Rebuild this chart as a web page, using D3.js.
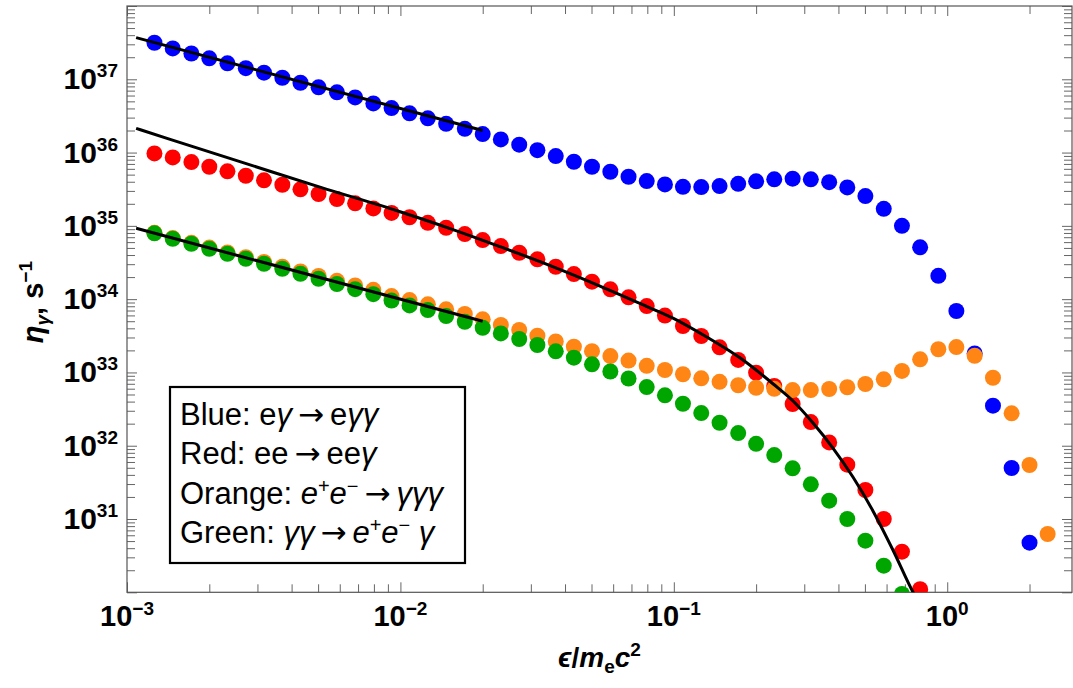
<!DOCTYPE html>
<html>
<head>
<meta charset="utf-8">
<script src="https://cdn.jsdelivr.net/npm/d3@7"></script>
<style>
  body { margin: 0; background: #fff; }
  svg { display: block; }
  text { font-family: "Liberation Sans", Arial, sans-serif; }
</style>
</head>
<body>
<div id="chart"></div>
<script>
// photon energy grid, eps / m_e c^2
const energies = [
  0.00126, 0.00147, 0.00172, 0.002, 0.00233, 0.00272, 0.00317, 0.0037, 0.00431, 0.00502,
  0.00586, 0.00683, 0.00796, 0.00928, 0.0108, 0.0126, 0.0147, 0.0172, 0.02, 0.0233,
  0.0272, 0.0317, 0.037, 0.0431, 0.0502, 0.0586, 0.0683, 0.0796, 0.0928, 0.108,
  0.126, 0.147, 0.172, 0.2, 0.233, 0.272, 0.317, 0.37, 0.431, 0.502,
  0.586, 0.683, 0.796, 0.928, 1.08, 1.26, 1.47, 1.72, 2.0, 2.33
];

// rates, s^-1
const blueRate = [
  3.15e37, 2.64e37, 2.25e37, 1.93e37, 1.65e37, 1.42e37, 1.23e37, 1.05e37, 8.97e36, 7.76e36,
  6.64e36, 5.66e36, 4.69e36, 4.05e36, 3.43e36, 2.93e36, 2.47e36, 2.11e36, 1.79e36, 1.51e36,
  1.28e36, 1.08e36, 8.95e35, 7.5e35, 6.4e35, 5.47e35, 4.68e35, 4.08e35, 3.68e35, 3.41e35,
  3.38e35, 3.49e35, 3.75e35, 4.05e35, 4.31e35, 4.4e35, 4.31e35, 3.95e35, 3.35e35, 2.55e35,
  1.71e35, 1.0e35, 5.09e34, 2.08e34, 6.89e33, 1.82e33, 3.52e32, 4.97e31, 4.75e30
];
const redRate = [
  9.75e35, 8.6e35, 7.42e35, 6.4e35, 5.54e35, 4.83e35, 4.18e35, 3.64e35, 3.15e35, 2.72e35,
  2.32e35, 2.03e35, 1.73e35, 1.5e35, 1.31e35, 1.1e35, 9.42e34, 7.73e34, 6.4e34, 5.3e34,
  4.3e34, 3.49e34, 2.77e34, 2.2e34, 1.73e34, 1.36e34, 1.06e34, 8.05e33, 5.97e33, 4.3e33,
  3.14e33, 2.2e33, 1.48e33, 9.91e32, 6.53e32, 3.71e32, 2.1e32, 1.11e32, 5.51e31, 2.49e31,
  1.0e31, 3.58e30, 1.1e30
];
const orangeRate = [
  8.03e34, 6.82e34, 5.86e34, 5.05e34, 4.34e34, 3.73e34, 3.22e34, 2.77e34, 2.39e34, 2.07e34,
  1.78e34, 1.54e34, 1.34e34, 1.1e34, 9.72e33, 8.49e33, 7.26e33, 6.27e33, 5.3e33, 4.44e33,
  3.79e33, 3.17e33, 2.65e33, 2.25e33, 1.95e33, 1.67e33, 1.45e33, 1.23e33, 1.08e33, 9.45e32,
  8.31e32, 7.44e32, 6.68e32, 6.18e32, 5.97e32, 5.75e32, 5.75e32, 5.94e32, 6.28e32, 6.95e32,
  8.05e32, 1.05e33, 1.51e33, 2.07e33, 2.22e33, 1.69e33, 8.47e32, 2.77e32, 5.46e31, 6.24e30
];
const greenRate = [
  7.91e34, 6.67e34, 5.7e34, 4.87e34, 4.16e34, 3.56e34, 3.04e34, 2.6e34, 2.22e34, 1.9e34,
  1.61e34, 1.37e34, 1.17e34, 9.57e33, 8.22e33, 7.1e33, 5.88e33, 4.92e33, 4.07e33, 3.41e33,
  2.86e33, 2.37e33, 1.94e33, 1.59e33, 1.29e33, 1.03e33, 8.26e32, 6.32e32, 4.87e32, 3.74e32,
  2.79e32, 2.06e32, 1.49e32, 1.06e32, 7.46e31, 4.92e31, 2.97e31, 1.78e31, 1.0e31, 5.06e30,
  2.31e30, 9.5e29
];

// black fit curves
const blueFitX = [0.00108, 0.02];
const blueFitY = [3.7e37, 2.0e36];
const greenFitX = [0.00108, 0.02];
const greenFitY = [9.26e34, 5.0e33];
const redFitX = [0.00108, 0.00141, 0.00282, 0.00508, 0.00997, 0.0152, 0.0231, 0.0353, 0.0537, 0.0798,
  0.0993, 0.132, 0.175, 0.231, 0.273, 0.323, 0.382, 0.452, 0.535, 0.633, 0.75, 0.777];
const redFitY = [2.14e36, 1.55e36, 6.79e35, 3.38e35, 1.56e35, 9.19e34, 5.22e34, 2.87e34, 1.51e34, 7.93e33,
  5.52e33, 3.04e33, 1.57e33, 6.95e32, 4.07e32, 2.04e32, 9.3e31, 3.74e31, 1.29e31, 3.78e30, 1.0e30, 7.9e29];

const xDomain = [1e-3, 2.86];
const yDomain = [1e30, 1e38];
const xLabelExps = ["−3", "−2", "−1", "0"];
const yLabelExps = ["31", "32", "33", "34", "35", "36", "37"];

const legendItems = [
  [{ t: "Blue: e" }, { t: "γ", i: true }, { t: "→", arrow: true }, { t: "e" }, { t: "γγ", i: true }],
  [{ t: "Red: ee" }, { t: "→", arrow: true }, { t: "ee" }, { t: "γ", i: true }],
  [{ t: "Orange: " }, { t: "e", i: true }, { t: "+", sup: true }, { t: "e", i: true }, { t: "−", sup: true },
   { t: "→", arrow: true }, { t: "γγγ", i: true }],
  [{ t: "Green: " }, { t: "γγ", i: true }, { t: "→", arrow: true }, { t: "e", i: true }, { t: "+", sup: true },
   { t: "e", i: true }, { t: "−", sup: true }, { t: " γ", i: true }]
];

const series = [
  { name: "blue", values: blueRate, color: "#0000ff" },
  { name: "red", values: redRate, color: "#ff0000" },
  { name: "orange", values: orangeRate, color: "#ff8614" },
  { name: "green", values: greenRate, color: "#00a600" }
];

// Set up dimensions
const W = 1073, H = 688;
const margin = { top: 6, right: 1, bottom: 95.7, left: 127 };
const width = W - margin.left - margin.right;
const height = H - margin.top - margin.bottom;

const svg = d3.select("#chart").append("svg")
  .attr("width", W)
  .attr("height", H);

const x = d3.scaleLog().domain(xDomain).range([margin.left, margin.left + width]);
const y = d3.scaleLog().domain(yDomain).range([margin.top + height, margin.top]);

svg.append("clipPath").attr("id", "plot-clip")
  .append("rect")
  .attr("x", margin.left).attr("y", margin.top)
  .attr("width", width).attr("height", height);

// helper for text with italic / super / subscript runs; arrows get operator spacing
function appendRuns(sel, runs, small, shift) {
  let cur = 0;
  let gap = 0;
  runs.forEach((r) => {
    const target = r.sup ? -shift : r.sub ? shift * 0.55 : 0;
    const ts = sel.append("tspan").attr("dy", target - cur).text(r.t);
    cur = target;
    if (r.sup || r.sub) ts.style("font-size", small + "px");
    if (r.i) ts.style("font-style", "italic");
    if (r.arrow) {
      ts.style("font-family", "'DejaVu Sans'").attr("dx", 6);
      gap = 6;
    } else if (gap) {
      ts.attr("dx", gap);
      gap = 0;
    }
  });
}

// ticks
const isMajor = (v) => Math.abs(Math.log10(v) - Math.round(Math.log10(v))) < 1e-9;
const xTicks = x.ticks(10);
const yTicks = y.ticks(10);

function tickGroup(axisFn, scale, values, size, transform) {
  svg.append("g")
    .attr("transform", transform)
    .call(axisFn(scale).tickValues(values).tickSizeInner(-size).tickSizeOuter(0).tickFormat(""))
    .call((g) => g.select(".domain").remove())
    .selectAll("line").attr("stroke", "#666");
}

[[xTicks.filter(isMajor), 10], [xTicks.filter((v) => !isMajor(v)), 8]].forEach(([vals, len]) => {
  tickGroup(d3.axisBottom, x, vals, len, `translate(0,${margin.top + height})`);
  tickGroup(d3.axisTop, x, vals, len, `translate(0,${margin.top})`);
});
[[yTicks.filter(isMajor), 10], [yTicks.filter((v) => !isMajor(v)), 8]].forEach(([vals, len]) => {
  tickGroup(d3.axisLeft, y, vals, len, `translate(${margin.left},0)`);
  tickGroup(d3.axisRight, y, vals, len, `translate(${margin.left + width},0)`);
});

// frame
svg.append("rect")
  .attr("x", margin.left).attr("y", margin.top)
  .attr("width", width).attr("height", height)
  .attr("fill", "none")
  .attr("stroke", "#555")
  .attr("stroke-width", 1.2);

// tick labels
xLabelExps.forEach((e) => {
  const t = svg.append("text")
    .attr("x", x(Math.pow(10, +e.replace("−", "-"))))
    .attr("y", margin.top + height + 34)
    .attr("text-anchor", "middle")
    .style("font-size", "29px")
    .style("font-weight", "bold");
  appendRuns(t, [{ t: "10" }, { t: e, sup: true }], 19, 11);
});
yLabelExps.forEach((e) => {
  const t = svg.append("text")
    .attr("x", margin.left - 9)
    .attr("y", y(Math.pow(10, +e)) + 10)
    .attr("text-anchor", "end")
    .style("font-size", "30px")
    .style("font-weight", "bold");
  appendRuns(t, [{ t: "10" }, { t: e, sup: true }], 19, 12);
});

// axis titles
const xTitle = svg.append("text")
  .attr("x", margin.left + width / 2)
  .attr("y", 667)
  .attr("text-anchor", "middle")
  .style("font-size", "28px")
  .style("font-weight", "bold");
appendRuns(xTitle, [{ t: "ϵ", i: true }, { t: "/" }, { t: "m", i: true }, { t: "e", sub: true },
  { t: "c", i: true }, { t: "2", sup: true }], 19, 11);

const yTitle = svg.append("text")
  .attr("transform", `translate(43,${margin.top + height / 2 + 3}) rotate(-90)`)
  .attr("text-anchor", "middle")
  .style("font-size", "29px")
  .style("font-weight", "bold");
appendRuns(yTitle, [{ t: "η", i: true }, { t: "γ", i: true, sub: true }, { t: ", s" }, { t: "−1", sup: true }], 19, 11);

// data points
const plot = svg.append("g").attr("clip-path", "url(#plot-clip)");

series.forEach((s) => {
  plot.append("g")
    .attr("class", `pts-${s.name}`)
    .selectAll("circle")
    .data(s.values.map((v, i) => ({ x: energies[i], y: v })))
    .join("circle")
    .attr("cx", (d) => x(d.x))
    .attr("cy", (d) => y(d.y))
    .attr("r", 8)
    .attr("fill", s.color);
});

// fit curves
const line = d3.line().x((d) => x(d[0])).y((d) => y(d[1])).curve(d3.curveMonotoneX);
[[blueFitX, blueFitY], [redFitX, redFitY], [greenFitX, greenFitY]].forEach(([xs, ys]) => {
  plot.append("path")
    .datum(xs.map((v, i) => [v, ys[i]]))
    .attr("d", line)
    .attr("fill", "none")
    .attr("stroke", "#000")
    .attr("stroke-width", 3);
});

// legend
const legend = svg.append("g").attr("class", "legend");
legend.append("rect")
  .attr("x", 170).attr("y", 387)
  .attr("width", 295).attr("height", 176)
  .attr("fill", "#fff")
  .attr("stroke", "#000")
  .attr("stroke-width", 2.2);

legendItems.forEach((runs, i) => {
  const t = legend.append("text")
    .attr("x", 180)
    .attr("y", 425 + i * 39.4)
    .style("font-size", "31px")
    .attr("fill", "#000");
  appendRuns(t, runs, 20, 11);
});
</script>
</body>
</html>
